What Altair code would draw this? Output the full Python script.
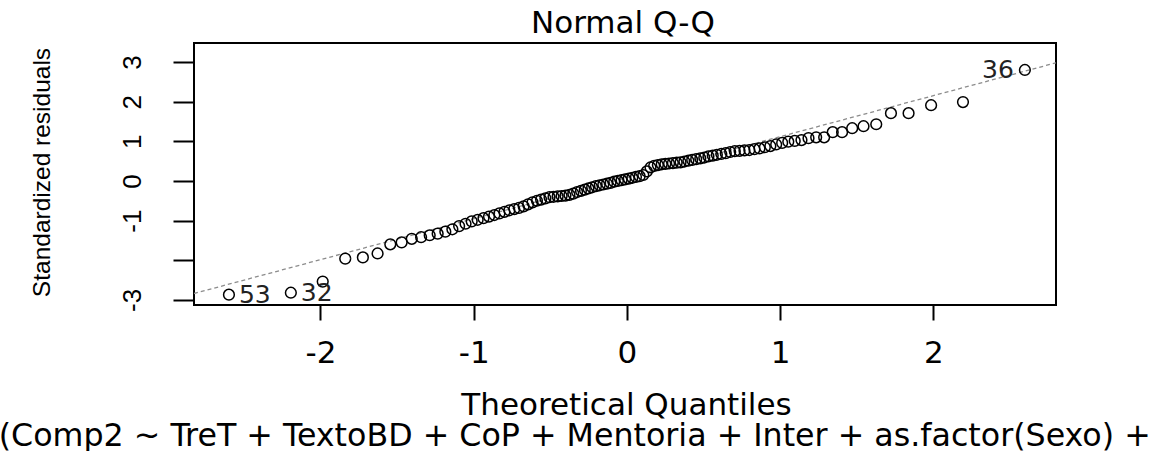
import altair as alt
import pandas as pd

# Theoretical normal quantiles (x)
theoretical_quantiles = [
    -2.597, -2.193, -1.985, -1.838, -1.723, -1.627, -1.544, -1.470, -1.404, -1.343,
    -1.287, -1.235, -1.185, -1.139, -1.095, -1.053, -1.013, -0.974, -0.936, -0.900,
    -0.865, -0.832, -0.799, -0.767, -0.735, -0.704, -0.674, -0.645, -0.616, -0.587,
    -0.560, -0.532, -0.505, -0.479, -0.452, -0.426, -0.401, -0.375, -0.350, -0.325,
    -0.300, -0.275, -0.251, -0.227, -0.202, -0.178, -0.154, -0.130, -0.107, -0.083,
    -0.059, -0.035, -0.012,
    0.012, 0.035, 0.059, 0.083, 0.107, 0.130, 0.154, 0.178, 0.202, 0.227,
    0.251, 0.275, 0.300, 0.325, 0.350, 0.375, 0.401, 0.426, 0.452, 0.479,
    0.505, 0.532, 0.560, 0.587, 0.616, 0.645, 0.674, 0.704, 0.735, 0.767,
    0.799, 0.832, 0.865, 0.900, 0.936, 0.974, 1.013, 1.053, 1.095, 1.139,
    1.185, 1.235, 1.287, 1.343, 1.404, 1.470, 1.544, 1.627, 1.723, 1.838,
    1.985, 2.193, 2.597,
]

# Sorted standardized residuals (y)
standardized_residuals = [
    -2.87, -2.82, -2.54, -1.96, -1.93, -1.83, -1.60, -1.55, -1.46, -1.42,
    -1.37, -1.33, -1.28, -1.22, -1.14, -1.08, -1.02, -0.98, -0.94, -0.90,
    -0.86, -0.82, -0.78, -0.74, -0.71, -0.68, -0.64, -0.59, -0.54, -0.50,
    -0.47, -0.44, -0.41, -0.40, -0.39, -0.38, -0.37, -0.35, -0.32, -0.28,
    -0.25, -0.22, -0.19, -0.16, -0.13, -0.11, -0.09, -0.07, -0.05, -0.02,
    0.00, 0.02, 0.04,
    0.06, 0.08, 0.10, 0.12, 0.15, 0.24, 0.34, 0.38, 0.40, 0.42,
    0.43, 0.44, 0.45, 0.46, 0.47, 0.49, 0.51, 0.53, 0.55, 0.57,
    0.59, 0.62, 0.64, 0.66, 0.68, 0.70, 0.73, 0.75, 0.76, 0.77,
    0.78, 0.80, 0.82, 0.85, 0.88, 0.92, 0.96, 0.99, 1.01, 1.03,
    1.08, 1.10, 1.10, 1.23, 1.23, 1.33, 1.38, 1.43, 1.71, 1.71,
    1.91, 1.99, 2.80,
]

# Reference (qqline) end points
line_x = [-2.825, 2.80]
line_y = [-2.84, 2.98]

# Labelled observations
label_text = ["53", "32", "36"]
label_x = [-2.597, -2.193, 2.597]
label_y = [-2.87, -2.82, 2.80]
label_side = ["left", "left", "right"]

x_ticks = [-2, -1, 0, 1, 2]
y_ticks = [-3, -2, -1, 0, 1, 2, 3]

main_title = "Normal Q-Q"
x_title = "Theoretical Quantiles"
y_title = "Standardized residuals"
sub_caption = "lm(Comp2 ~ TreT + TextoBD + CoP + Mentoria + Inter + as.factor(Sexo) + ...)"

W, H = 862, 262

df = pd.DataFrame({"tq": theoretical_quantiles, "sr": standardized_residuals})
line_df = pd.DataFrame({"tq": line_x, "sr": line_y})
lab_df = pd.DataFrame({"tq": label_x, "sr": label_y, "lab": label_text, "side": label_side})

xscale = alt.Scale(domain=[-2.825, 2.80], nice=False, zero=False)
yscale = alt.Scale(domain=[-3.13, 3.48], nice=False, zero=False)

x_axis = alt.Axis(
    values=x_ticks, title=x_title, domain=False, grid=False,
    tickSize=15, tickWidth=2, tickColor="black",
    labelExpr="toString(datum.value)",
    labelFont="DejaVu Sans", labelFontSize=31, labelColor="black",
    labelBaseline="alphabetic", labelAlign="center", labelPadding=42,
    labelFlush=False, labelOverlap=False,
    titleFont="DejaVu Sans", titleFontSize=31, titleFontWeight="normal",
    titleColor="black", titleX=432, titleY=109,
    titleBaseline="alphabetic", titleAlign="center",
)
y_axis = alt.Axis(
    values=y_ticks, title=y_title, domain=False, grid=False,
    tickSize=21, tickWidth=2, tickColor="black",
    labelExpr="datum.value == -2 ? '' : toString(datum.value)",
    labelFont="Liberation Sans", labelFontSize=26, labelColor="black",
    labelAngle=270, labelAlign="center", labelBaseline="alphabetic",
    labelPadding=33, labelFlush=False, labelOverlap=False,
    titleFont="Liberation Sans", titleFontSize=24.5, titleFontWeight="normal",
    titleColor="black", titleAngle=270, titleX=-145, titleY=129,
    titleBaseline="alphabetic", titleAlign="center",
)

line = alt.Chart(line_df).mark_line(
    color="#8c8c8c", strokeDash=[4, 3], strokeWidth=1.3, clip=True
).encode(
    x=alt.X("tq:Q", scale=xscale, axis=x_axis),
    y=alt.Y("sr:Q", scale=yscale, axis=y_axis),
)

pts = alt.Chart(df).mark_point(
    shape="circle", filled=False, color="black", strokeWidth=1.5, size=115, opacity=1
).encode(
    x=alt.X("tq:Q", scale=xscale),
    y=alt.Y("sr:Q", scale=yscale),
)

lab_left = alt.Chart(lab_df).transform_filter("datum.side == 'left'").mark_text(
    align="left", baseline="middle", dx=10, font="DejaVu Sans", fontSize=25, color="#222222"
).encode(x=alt.X("tq:Q", scale=xscale), y=alt.Y("sr:Q", scale=yscale), text="lab:N")

lab_right = alt.Chart(lab_df).transform_filter("datum.side == 'right'").mark_text(
    align="right", baseline="middle", dx=-11, font="DejaVu Sans", fontSize=25, color="#222222"
).encode(x=alt.X("tq:Q", scale=xscale), y=alt.Y("sr:Q", scale=yscale), text="lab:N")

title_t = alt.Chart(pd.DataFrame({"t": [main_title]})).mark_text(
    align="center", baseline="alphabetic", font="DejaVu Sans", fontSize=31, color="black"
).encode(x=alt.value(429), y=alt.value(-10), text="t:N")

caption_t = alt.Chart(pd.DataFrame({"t": [sub_caption]})).mark_text(
    align="left", baseline="alphabetic", font="DejaVu Sans", fontSize=31.7, color="black"
).encode(x=alt.value(-235), y=alt.value(403), text="t:N")

chart = alt.layer(line, pts, lab_left, lab_right, title_t, caption_t).properties(
    width=W, height=H,
    background="white",
    autosize=alt.AutoSizeParams(type="none"),
    padding={"left": 194, "top": 43, "right": 105, "bottom": 146},
).configure_view(stroke="black", strokeWidth=2)

chart.save("out.html", embed_options={"renderer": "svg", "actions": False})
